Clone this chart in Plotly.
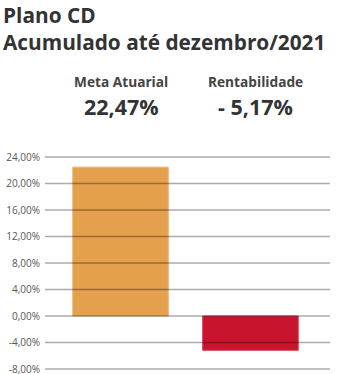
import plotly.graph_objects as go

categories = ["Meta Atuarial", "Rentabilidade"]
values = [22.47, -5.17]
value_labels = ["22,47%", "- 5,17%"]
colors = ["#E5A04E", "#C8152D"]
line_colors = ["#EBB36F", "#D9364B"]
tick_vals = [-8, -4, 0, 4, 8, 12, 16, 20, 24]
tick_text = ["-8,00%", "-4,00%", "0,00%", "4,00%", "8,00%", "12,00%", "16,00%", "20,00%", "24,00%"]
title_lines = ["Plano CD", "Acumulado até dezembro/2021"]

W, H = 356, 374
L, R, T, B = 45, 330, 155, 371
YMIN, YMAX = -8.302, 24.302

def px(x):
    return (x - L) / (R - L)

def py(y):
    return (B - y) / (B - T)

fig = go.Figure()
fig.add_trace(go.Bar(
    x=[0, 1], y=values, width=0.735,
    marker=dict(color=colors, line=dict(color=line_colors, width=1)),
    hoverinfo="skip",
))

fig.update_layout(
    width=W, height=H,
    margin=dict(l=L, r=W - R, t=T, b=H - B, pad=0),
    plot_bgcolor="white", paper_bgcolor="white",
    showlegend=False,
    font=dict(family="Open Sans", color="#333"),
    xaxis=dict(range=[-0.581, 1.612], showticklabels=False, showgrid=False,
               zeroline=False, showline=False, fixedrange=True),
    yaxis=dict(range=[YMIN, YMAX], tickmode="array", tickvals=tick_vals, ticktext=tick_text,
               showgrid=False, zeroline=False, showline=False,
               tickfont=dict(size=10, color="#555", family="Open Sans"),
               ticklabelstandoff=4, ticks="", fixedrange=True,
               ticklabeloverflow="allow", automargin=False),
)

# gridlines drawn above the bars, one per tick value
for v in tick_vals:
    fig.add_shape(type="line", xref="paper", yref="y", x0=0, x1=1, y0=v, y1=v,
                  line=dict(color="rgba(0,0,0,0.33)", width=1.3), layer="above")

ann = []
ann.append(dict(text="<br>".join("<b>" + t + "</b>" for t in title_lines),
                x=px(2), y=py(0), xanchor="left", yanchor="top", align="left", borderpad=0,
                font=dict(size=20.8, color="#333", family="Open Sans")))
centers = [121, 255]
for c, cat, lab in zip(centers, categories, value_labels):
    ann.append(dict(text="<b>" + cat + "</b>", x=px(c), y=py(82), xanchor="center", yanchor="middle",
                    font=dict(size=13.7, color="#444", family="Open Sans")))
    ann.append(dict(text="<b>" + lab + "</b>", x=px(c), y=py(107), xanchor="center", yanchor="middle",
                    font=dict(size=21.5, color="#333", family="Open Sans")))
for a in ann:
    a.update(xref="paper", yref="paper", showarrow=False)
fig.update_layout(annotations=ann)

fig.write_html("out.html", config={"displayModeBar": False},
               post_script="document.body.style.margin='0';")
